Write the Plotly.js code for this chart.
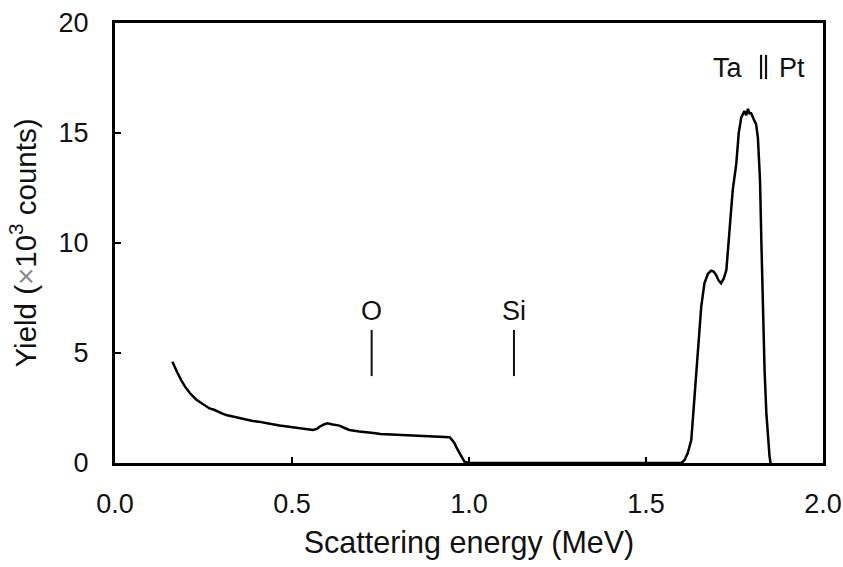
<!DOCTYPE html>
<html>
<head>
<meta charset="utf-8">
<script src="https://cdn.plot.ly/plotly-3.0.1.min.js"></script>
<style>html,body{margin:0;padding:0;background:#fff;}#chart{width:843px;height:567px;}</style>
</head>
<body>
<div id="chart"></div>
<script>
// Scattering energy (MeV)
const energy = [
  0.162,0.168,0.177,0.187,0.199,0.212,0.229,0.248,0.267,0.280,0.290,0.302,0.314,0.330,0.352,
  0.370,0.389,0.405,0.427,0.445,0.465,0.485,0.502,0.520,0.540,0.559,0.570,0.578,0.590,0.600,
  0.615,0.634,0.650,0.662,0.690,0.710,0.730,0.750,0.780,0.804,0.830,0.850,0.875,0.898,0.920,
  0.935,0.945,0.952,0.959,0.966,0.973,0.980,0.987,1.000,
  1.200,1.400,1.600,
  1.609,1.618,1.628,1.637,1.646,1.656,1.665,1.675,1.684,1.691,1.698,1.705,1.712,1.720,1.727,
  1.736,1.745,1.755,1.762,1.769,1.775,1.778,1.783,1.788,1.792,1.797,1.805,1.811,1.816,1.819,
  1.822,1.826,1.830,1.835,1.840,1.845,1.849,1.852
];
// Yield (x10^3 counts)
const yieldK = [
  4.60,4.38,4.08,3.77,3.44,3.17,2.89,2.68,2.48,2.42,2.33,2.26,2.18,2.12,2.03,
  1.98,1.91,1.88,1.80,1.76,1.70,1.66,1.62,1.60,1.55,1.50,1.55,1.65,1.75,1.80,
  1.75,1.70,1.58,1.50,1.43,1.38,1.36,1.32,1.30,1.27,1.26,1.25,1.24,1.23,1.22,
  1.21,1.17,1.05,0.90,0.66,0.44,0.22,0.06,0.00,
  0.00,0.00,0.00,
  0.14,0.45,1.05,3.00,5.30,7.10,8.17,8.60,8.74,8.70,8.55,8.30,8.17,8.40,8.77,
  10.6,12.4,13.6,15.0,15.7,15.9,16.0,15.8,16.1,15.9,15.9,15.6,15.4,14.8,13.6,
  12.9,10.0,6.8,4.2,2.26,0.9,0.29,0.0
];
// Element edge markers
const markerLabels = ['O', 'Si'];
const markerEnergy = [0.725, 1.127];
const markerLineBottom = 3.95;
const markerLineTop = 6.05;
const markerTextY = 6.9;
// Ta || Pt boundary
const boundaryEnergy = [1.825, 1.839];
const boundaryLow = 17.45, boundaryHigh = 18.55;
const taPtLabels = ['Ta', 'Pt'];
const taPtX = [1.781, 1.869];
const taPtY = 17.95;

const xTicks = [0, 0.5, 1.0, 1.5, 2.0];
const yTicks = [0, 5, 10, 15, 20];

const font = 'Liberation Sans, Arial, sans-serif';
const ink = '#111';

const shapes = [];
markerEnergy.forEach(e => shapes.push({type:'line', xref:'x', yref:'y', x0:e, x1:e, y0:markerLineBottom, y1:markerLineTop, line:{color:ink, width:2}}));
boundaryEnergy.forEach(e => shapes.push({type:'line', xref:'x', yref:'y', x0:e, x1:e, y0:boundaryLow, y1:boundaryHigh, line:{color:ink, width:2.2}}));

const annotations = [];
markerLabels.forEach((t,i) => annotations.push({text:t, x:markerEnergy[i], y:markerTextY, xref:'x', yref:'y', showarrow:false, font:{family:font, size:27, color:ink}}));
annotations.push({text:taPtLabels[0], x:taPtX[0], y:taPtY, xref:'x', yref:'y', showarrow:false, xanchor:'right', font:{family:font, size:27, color:ink}});
annotations.push({text:taPtLabels[1], x:taPtX[1], y:taPtY, xref:'x', yref:'y', showarrow:false, xanchor:'left', font:{family:font, size:27, color:ink}});

const trace = {
  x: energy, y: yieldK, type:'scatter', mode:'lines',
  line:{color:'#000', width:2.5}, hoverinfo:'skip'
};

const axisCommon = {
  showgrid:false, zeroline:false, showline:true, linecolor:'#000', linewidth:3, mirror:true,
  ticks:'inside', ticklen:6, tickwidth:2.5, tickcolor:'#000',
  tickfont:{family:font, size:27, color:ink}
};

const layout = {
  width:843, height:567,
  margin:{l:115, r:20, t:23, b:104},
  paper_bgcolor:'#fff', plot_bgcolor:'#fff',
  showlegend:false,
  xaxis: Object.assign({}, axisCommon, {
    range:[0,2], tickvals:xTicks, ticktext:xTicks.map(v=>v.toFixed(1)),
    ticklabelstandoff:15,
    title:{text:'Scattering energy (MeV)', font:{family:font, size:30.5, color:ink}, standoff:14}
  }),
  yaxis: Object.assign({}, axisCommon, {
    range:[0,20], tickvals:yTicks, ticktext:yTicks.map(String),
    ticklabelstandoff:18,
    title:{text:'Yield (<span style="color:#888">×</span>10<sup>3</sup> counts)', font:{family:font, size:29.5, color:ink}, standoff:14}
  }),
  shapes: shapes,
  annotations: annotations
};

Plotly.newPlot('chart', [trace], layout, {displayModeBar:false, staticPlot:true});
</script>
</body>
</html>
